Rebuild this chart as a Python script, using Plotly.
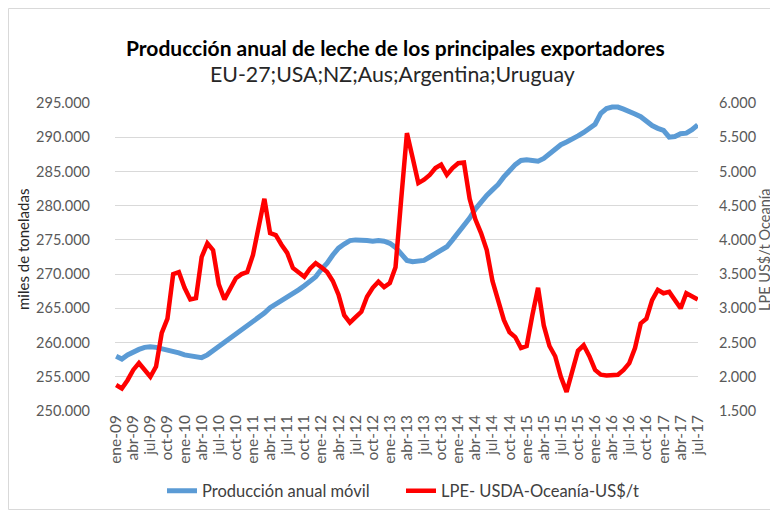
import plotly.graph_objects as go

meses = ["ene", "feb", "mar", "abr", "may", "jun", "jul", "ago", "sep", "oct", "nov", "dic"]
categorias = []
for anio in range(9, 18):
    for m in meses:
        categorias.append(f"{m}-{anio:02d}")
categorias = categorias[:categorias.index("jul-17") + 1]

produccion = [
    258000, 257600, 258200, 258700, 259000, 259300, 259400, 259300, 259100, 258900,
    258800, 258500, 258200, 258100, 258000, 257800, 258200, 258800, 259300, 259900,
    260600, 261300, 261900, 262300, 262900, 263600, 264300, 265100, 265600, 266000,
    266500, 267100, 267700, 268300, 268900, 269600, 270700, 271600, 272800, 273800,
    274400, 274900, 275000, 275000, 274900, 274800, 274900, 274800, 274500, 273900,
    272800, 272000, 271800, 271900, 272000, 272500, 273000, 273500, 274000, 275000,
    276000, 277000, 278200, 279500, 280600, 281500, 282300, 283100, 284200, 285200,
    286000, 286600, 286700, 286600, 286500, 286900, 287600, 288300, 288900, 289300,
    289700, 290200, 290700, 291300, 291900, 293500, 294200, 294400, 294400, 294100,
    293800, 293400, 293000, 292300, 291700, 291300, 291000, 290000, 290100, 290500,
    290600, 291100, 291800,
]

lpe = [
    1880, 1830, 1950, 2100, 2200, 2100, 2000, 2150, 2640, 2850,
    3500, 3530, 3300, 3130, 3150, 3750, 3950, 3850, 3350, 3130,
    3300, 3440, 3500, 3530, 3780, 4200, 4600, 4100, 4070, 3930,
    3810, 3590, 3520, 3460, 3580, 3660, 3600, 3530, 3400, 3200,
    2900, 2790, 2870, 2950, 3170, 3300, 3390, 3310, 3370, 3600,
    4600, 5560, 5200, 4830, 4880, 4950, 5050, 5100, 4950, 5050,
    5120, 5130, 4600, 4300, 4100, 3850, 3400, 3100, 2830, 2650,
    2580, 2420, 2450, 2900, 3300, 2750, 2450, 2300, 2000, 1780,
    2100, 2380, 2460, 2300, 2100, 2030, 2020, 2030, 2030, 2100,
    2200, 2420, 2780, 2850, 3120, 3270, 3220, 3240, 3130, 3000,
    3220, 3180, 3130,
]

etiquetas_x = categorias[::3]

FONT = "Lato, Carlito, Calibri, sans-serif"
GRAY = "#595959"

# the page body has an 8px default margin; the figure is sized to the visible area
OFF = 8
W, H = 778 - OFF, 512 - OFF
# plot area in page pixels: x 115..698, y 103..411
L, R = 115 - OFF, W - (698 - OFF)
T, B = 103 - OFF, H - (411 - OFF)
PW, PH = W - L - R, H - T - B


def px(x):  # page x -> paper fraction
    return (x - OFF - L) / PW


def py(y):  # page y -> paper fraction
    return (H - B - (y - OFF)) / PH


fig = go.Figure()
fig.add_trace(go.Scatter(
    x=categorias, y=produccion, name="Producción anual móvil",
    mode="lines", line=dict(color="#5B9BD5", width=5), yaxis="y",
))
fig.add_trace(go.Scatter(
    x=categorias, y=lpe, name="LPE- USDA-Oceanía-US$/t",
    mode="lines", line=dict(color="#FF0000", width=4.5), yaxis="y2",
))

fig.update_layout(
    width=W, height=H,
    margin=dict(l=L, r=R, t=T, b=B, autoexpand=False),
    paper_bgcolor="white", plot_bgcolor="white",
    separators=",.",
    font=dict(family=FONT, color=GRAY, size=14),
    showlegend=True,
    legend=dict(
        orientation="h", xref="container", yref="container",
        x=(162 - OFF) / W, y=1 - (491 - OFF) / H, yanchor="middle", xanchor="left",
        font=dict(family=FONT, size=16.5, color="#404040"),
        itemwidth=30, tracegroupgap=0, bgcolor="rgba(0,0,0,0)",
        entrywidth=194, entrywidthmode="pixels",
    ),
    xaxis=dict(
        type="category", range=[-0.2, len(categorias) - 1 + 0.05],
        tickmode="array", tickvals=etiquetas_x, ticktext=etiquetas_x,
        tickangle=-90, tickfont=dict(size=15.5, color=GRAY, family=FONT),
        showgrid=False, showline=False, ticks="", zeroline=False, automargin=False,
    ),
    yaxis=dict(
        range=[250000, 295000], dtick=5000, tickformat=",.0f",
        tickfont=dict(size=14.5, color=GRAY, family=FONT),
        showgrid=True, gridcolor="#D9D9D9", gridwidth=1,
        zeroline=False, showline=False, ticks="", ticklabelstandoff=24, automargin=False,
    ),
    yaxis2=dict(
        range=[1500, 6000], dtick=500, tickformat=",.0f", overlaying="y", side="right",
        tickfont=dict(size=14.5, color=GRAY, family=FONT),
        showgrid=False, zeroline=False, showline=False, ticks="", ticklabelstandoff=20,
        automargin=False,
    ),
    annotations=[
        dict(text="<b>Producción anual de leche de los principales exportadores</b>",
             x=px(395), y=py(48), xref="paper", yref="paper", showarrow=False,
             xanchor="center", yanchor="middle",
             font=dict(family=FONT, size=21, color="#000000")),
        dict(text="EU-27;USA;NZ;Aus;Argentina;Uruguay",
             x=px(392), y=py(74), xref="paper", yref="paper", showarrow=False,
             xanchor="center", yanchor="middle",
             font=dict(family=FONT, size=21.3, color="#262626")),
        dict(text="miles de toneladas", textangle=-90,
             x=px(23), y=py(250), xref="paper", yref="paper", showarrow=False,
             xanchor="center", yanchor="middle",
             font=dict(family=FONT, size=15, color="#262626")),
        dict(text="LPE US$/t Oceanía", textangle=-90,
             x=px(764), y=py(250), xref="paper", yref="paper", showarrow=False,
             xanchor="center", yanchor="middle",
             font=dict(family=FONT, size=14.5, color=GRAY)),
    ],
    shapes=[
        dict(type="rect", xref="paper", yref="paper",
             x0=px(8.5), x1=px(800), y0=py(509.5), y1=py(8.5),
             line=dict(color="#D9D9D9", width=1), layer="below"),
    ],
)

fig.write_html("out.html")
